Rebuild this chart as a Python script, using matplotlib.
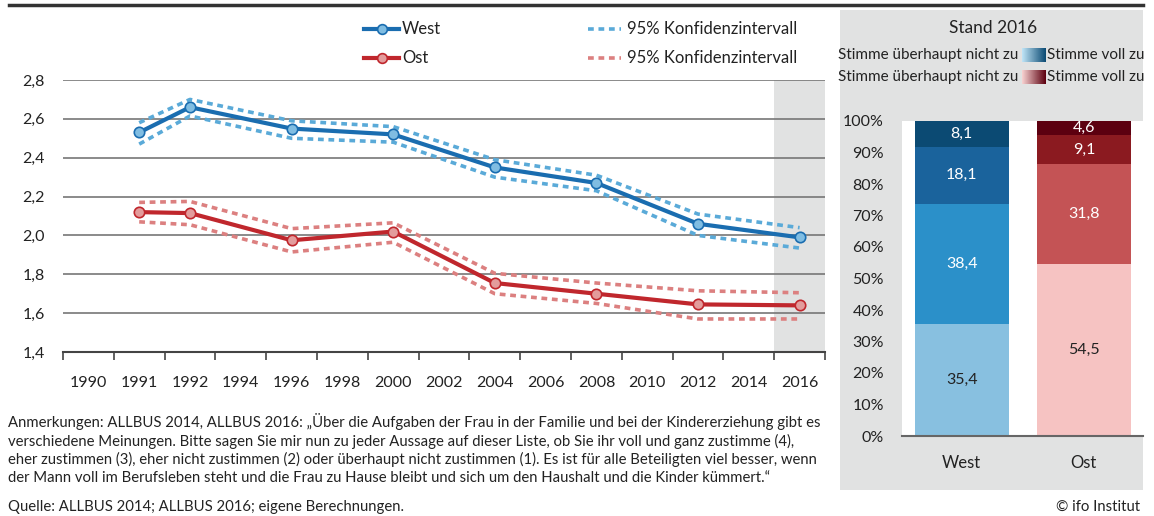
import matplotlib
matplotlib.use("Agg")
import matplotlib.pyplot as plt
import numpy as np
from matplotlib.patches import Rectangle
from matplotlib.lines import Line2D
from matplotlib.colors import LinearSegmentedColormap

plt.rcParams['font.family'] = ['Lato', 'DejaVu Sans']

# ---- data ----
categories = ['1990', '1991', '1992', '1994', '1996', '1998', '2000', '2002',
              '2004', '2006', '2008', '2010', '2012', '2014', '2016']
survey_years = ['1991', '1992', '1996', '2000', '2004', '2008', '2012', '2016']
west = [2.53, 2.66, 2.55, 2.52, 2.35, 2.27, 2.06, 1.99]
west_hi = [2.58, 2.70, 2.59, 2.56, 2.39, 2.31, 2.11, 2.04]
west_lo = [2.47, 2.615, 2.50, 2.48, 2.30, 2.23, 2.00, 1.935]
ost = [2.12, 2.115, 1.975, 2.02, 1.755, 1.70, 1.645, 1.64]
ost_hi = [2.17, 2.175, 2.035, 2.065, 1.805, 1.755, 1.715, 1.705]
ost_lo = [2.07, 2.055, 1.915, 1.965, 1.70, 1.65, 1.57, 1.57]
y_ticks = [1.4, 1.6, 1.8, 2.0, 2.2, 2.4, 2.6, 2.8]

bar_groups = ['West', 'Ost']
west_shares = [35.4, 38.4, 18.1, 8.1]
ost_shares = [54.5, 31.8, 9.1, 4.6]
west_colors = ['#88c0e0', '#2b90c9', '#1a639c', '#0b4a73']
ost_colors = ['#f6c3c2', '#c45355', '#8b1a20', '#5c0010']
west_text = ['#222222', 'white', 'white', 'white']
ost_text = ['#222222', 'white', 'white', 'white']

W, H = 1154, 516
fig = plt.figure(figsize=(W / 100, H / 100), dpi=100)

def px(x0, y0, x1, y1):
    return [x0 / W, 1 - y1 / H, (x1 - x0) / W, (y1 - y0) / H]

# top rule
fig.add_artist(Line2D([9 / W, 1143 / W], [1 - 5 / H, 1 - 5 / H], color='#333333', lw=2.5))

# ---- line chart ----
ax = fig.add_axes(px(63, 80, 825, 352))
xpos = [categories.index(y) for y in survey_years]
ax.axvspan(13.5, 14.5, color='#e1e2e2', zorder=0, lw=0)
for t in y_ticks:
    ax.axhline(t, color='#777777', lw=1.2, zorder=1)
wc, wci = '#1a6db0', '#5aaad8'
oc, oci = '#c0272d', '#dc8080'
ds = (0, (1.6, 1.3))
ax.plot(xpos, west_hi, color=wci, lw=2.6, ls=ds, zorder=2)
ax.plot(xpos, west_lo, color=wci, lw=2.6, ls=ds, zorder=2)
ax.plot(xpos, ost_hi, color=oci, lw=2.6, ls=ds, zorder=2)
ax.plot(xpos, ost_lo, color=oci, lw=2.6, ls=ds, zorder=2)
ax.plot(xpos, west, color=wc, lw=3, marker='o', ms=7.5, mfc='#80bde2', mec=wc, mew=1.2, zorder=3)
ax.plot(xpos, ost, color=oc, lw=3, marker='o', ms=7.5, mfc='#e39c9c', mec=oc, mew=1.2, zorder=3)
ax.set_xlim(-0.5, 14.5)
ax.set_ylim(1.4, 2.8)
ax.set_yticks(y_ticks)
ax.set_yticklabels([f'{t:.1f}'.replace('.', ',') for t in y_ticks], fontsize=11.5, color='#222222')
ax.set_xticks(range(len(categories)))
ax.set_xticklabels(categories, fontsize=11.5, color='#222222')
ax.set_xticks(np.arange(-0.5, 15, 1), minor=True)
ax.tick_params(axis='x', which='major', length=0, pad=17)
ax.tick_params(axis='x', which='minor', length=6, width=1.2, color='#444444')
ax.tick_params(axis='y', length=0, pad=13)
for s in ['top', 'right', 'left']:
    ax.spines[s].set_visible(False)
ax.spines['bottom'].set_color('#444444')
ax.spines['bottom'].set_linewidth(1.5)
ax.set_facecolor('none')

# legend (manual)
def leg_line(x0, x1, y, color, dotted=False, mfc=None):
    if dotted:
        fig.add_artist(Line2D([x0 / W, x1 / W], [1 - y / H] * 2, color=color, lw=2.6, ls=ds))
    else:
        fig.add_artist(Line2D([x0 / W, x1 / W], [1 - y / H] * 2, color=color, lw=3))
        fig.add_artist(Line2D([(x0 + x1) / 2 / W], [1 - y / H], color=color, marker='o', ms=7,
                              mfc=mfc, mec=color, mew=1.2))

leg_line(364, 399, 29, wc, mfc='#80bde2')
fig.text(402 / W, 1 - 29 / H, 'West', fontsize=12, va='center', color='#222222')
leg_line(364, 399, 58, oc, mfc='#e39c9c')
fig.text(402 / W, 1 - 58 / H, 'Ost', fontsize=12, va='center', color='#222222')
leg_line(588, 621, 29, wci, dotted=True)
fig.text(627 / W, 1 - 29 / H, '95% Konfidenzintervall', fontsize=12, va='center', color='#222222')
leg_line(588, 621, 58, oci, dotted=True)
fig.text(627 / W, 1 - 58 / H, '95% Konfidenzintervall', fontsize=12, va='center', color='#222222')

# ---- right panel ----
fig.add_artist(Rectangle((840 / W, 1 - 490 / H), 303 / W, 480 / H, transform=fig.transFigure,
                         facecolor='#e1e2e2', edgecolor='none', zorder=0))
fig.text(993 / W, 1 - 28 / H, 'Stand 2016', fontsize=12.5, ha='center', va='center', color='#222222')
blue_cmap = LinearSegmentedColormap.from_list('b', ['#bfe4f6', '#0b4a73'])
red_cmap = LinearSegmentedColormap.from_list('r', ['#f8d2d1', '#5c0010'])
for yy, cm in [(55, blue_cmap), (77, red_cmap)]:
    fig.text(1018 / W, 1 - yy / H, 'Stimme überhaupt nicht zu', fontsize=11, ha='right', va='center', color='#222222')
    gax = fig.add_axes(px(1022, yy - 7, 1046, yy + 7))
    gax.imshow(np.linspace(0, 1, 64)[None, :], aspect='auto', cmap=cm)
    gax.axis('off')
    fig.text(1047 / W, 1 - yy / H, 'Stimme voll zu', fontsize=11, ha='left', va='center', color='#222222')

bax = fig.add_axes(px(902, 121, 1143, 436))
bax.set_facecolor('white')
for i, (shares, cols, tcols) in enumerate([(west_shares, west_colors, west_text),
                                           (ost_shares, ost_colors, ost_text)]):
    bottom = 0
    for v, c, tc in zip(shares, cols, tcols):
        bax.bar(i, v, bottom=bottom, width=0.77, color=c, lw=0)
        bax.text(i, bottom + v / 2, f'{v:.1f}'.replace('.', ','), ha='center', va='center',
                 fontsize=11.5, color=tc)
        bottom += v
bax.set_xlim(-0.49, 1.485)
bax.set_ylim(0, 100)
bax.set_yticks(range(0, 101, 10))
bax.set_yticklabels([f'{v}%' for v in range(0, 101, 10)], fontsize=11.5, color='#222222')
bax.set_xticks([0, 1])
bax.set_xticklabels(bar_groups, fontsize=12, color='#222222')
bax.tick_params(axis='both', length=0)
bax.tick_params(axis='y', pad=13)
bax.tick_params(axis='x', pad=14)
for s in ['top', 'right', 'left']:
    bax.spines[s].set_visible(False)
bax.spines['bottom'].set_color('#666666')
bax.spines['bottom'].set_linewidth(1.5)

# ---- footnotes ----
note = ("Anmerkungen: ALLBUS 2014, ALLBUS 2016: „Über die Aufgaben der Frau in der Familie und bei der Kindererziehung gibt es\n"
        "verschiedene Meinungen. Bitte sagen Sie mir nun zu jeder Aussage auf dieser Liste, ob Sie ihr voll und ganz zustimme (4),\n"
        "eher zustimmen (3), eher nicht zustimmen (2) oder überhaupt nicht zustimmen (1). Es ist für alle Beteiligten viel besser, wenn\n"
        "der Mann voll im Berufsleben steht und die Frau zu Hause bleibt und sich um den Haushalt und die Kinder kümmert.“")
fig.text(8 / W, 1 - 413 / H, note, fontsize=10.7, ha='left', va='top', color='#222222', linespacing=1.3)
fig.text(8 / W, 1 - 507 / H, 'Quelle: ALLBUS 2014; ALLBUS 2016; eigene Berechnungen.', fontsize=10.7,
         ha='left', va='center', color='#222222')
fig.text(1140 / W, 1 - 507 / H, '© ifo Institut', fontsize=10.7, ha='right', va='center', color='#222222')

fig.savefig('out.png', dpi=100)
